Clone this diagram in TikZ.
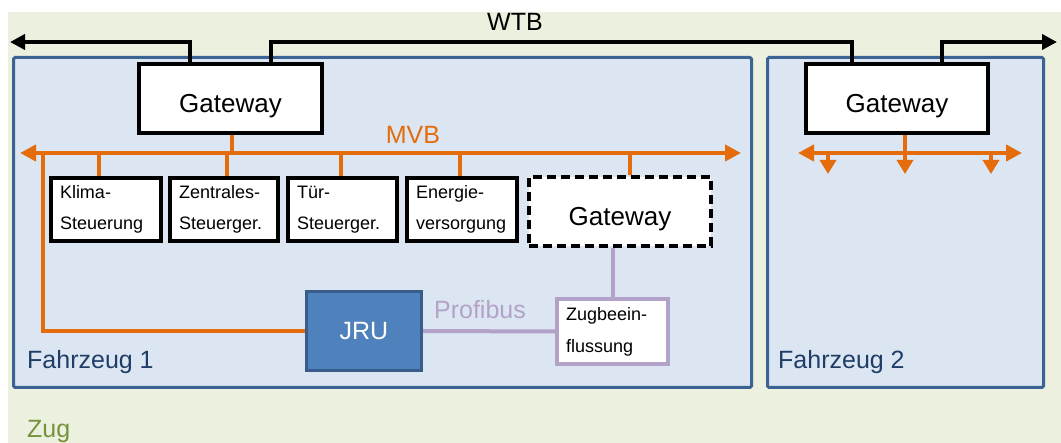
\documentclass[tikz,border=0pt]{standalone}
\usepackage{fontspec}
\setmainfont{Liberation Sans}
\usetikzlibrary{arrows.meta}

\definecolor{zugbg}{HTML}{EBF0DF}
\definecolor{vehfill}{HTML}{DCE6F2}
\definecolor{vehborder}{HTML}{3B6495}
\definecolor{vehtext}{HTML}{1F3D66}
\definecolor{jrufill}{HTML}{4F81BD}
\definecolor{jruborder}{HTML}{385D8A}
\definecolor{mvborange}{HTML}{E46C0A}
\definecolor{pbpurple}{HTML}{B3A2C7}
\definecolor{zuggreen}{HTML}{76923C}

\begin{document}
\begin{tikzpicture}[x=1pt,y=-1pt,
  vehicle/.style={draw=vehborder, line width=3pt, fill=vehfill, rounded corners=1.5pt, inner sep=0pt},
  box/.style={draw=black, line width=4pt, fill=white, rectangle, inner sep=0pt},
  gwbox/.style={box, minimum width=182pt, minimum height=69pt, text height=28pt, text depth=0pt,
    font=\fontsize{26}{30}\selectfont},
  dev/.style={box, align=left, text width=#1, inner xsep=9pt, inner ysep=0pt,
    minimum height=63pt, font=\fontsize{18}{31}\selectfont},
  wtbline/.style={draw=black, line width=4pt},
  mvbline/.style={draw=mvborange, line width=4pt},
  pbline/.style={draw=pbpurple, line width=4pt},
  bothtips/.style={{Triangle[length=16pt,width=16pt]}-{Triangle[length=16pt,width=16pt]}},
  droptip/.style={-{Triangle[length=14pt,width=16pt]}},
  lbl/.style={inner sep=0pt, font=\fontsize{25}{30}\selectfont}
]
% canvas and train area
\useasboundingbox (0,0) rectangle (1061,443);
\fill[white] (0,0) rectangle (1061,443);
\fill[zugbg] (8,12) rectangle (1061,443);

% vehicles
\node[vehicle, minimum width=738pt, minimum height=330pt] (fz1) at (382.5,222.5) {};
\node[vehicle, minimum width=276pt, minimum height=330pt] (fz2) at (905.5,222.5) {};

% gateways on the train bus
\node[gwbox, minimum width=183pt] (gw1) at (230.5,98.5) {Gateway};
\node[gwbox] (gw2) at (897,98.5) {Gateway};

% devices on the vehicle bus
\node[dev=92pt] (klima) at (106,209.5) {Klima-\\Steuerung};
\node[dev=90pt] (zentr) at (224,209.5) {Zentrales-\\Steuerger.};
\node[dev=91pt] (tuer)  at (342.5,209.5) {Tür-\\Steuerger.};
\node[dev=92pt] (energ) at (462,209.5) {Energie-\\versorgung};
\node[gwbox, dash pattern=on 9pt off 5pt] (gwd) at (620,211.5) {Gateway};

% recorder and train protection
\node[draw=jruborder, line width=3pt, fill=jrufill, text=white, inner sep=0pt,
  minimum width=115pt, minimum height=79pt, font=\fontsize{25}{30}\selectfont] (jru) at (364,331) {JRU};
\node[draw=pbpurple, line width=4pt, fill=white, inner xsep=9pt, inner ysep=0pt,
  align=left, text width=93pt, minimum height=65pt,
  font=\fontsize{18}{32}\selectfont] (zb) at (612.5,331.5) {Zugbeein-\\flussung};

% bus labels
\node[lbl] (wtb) at (515,22) {WTB};
\node[lbl, text=mvborange] (mvb) at (413,135) {MVB};
\node[lbl, text=pbpurple] (pb) at (480,310) {Profibus};
\node[lbl, text=vehtext, anchor=west] (fzl1) at (27,362) {Fahrzeug 1};
\node[lbl, text=vehtext, anchor=west] (fzl2) at (778,362) {Fahrzeug 2};
\node[lbl, text=zuggreen, anchor=west] (zug) at (27,431) {Zug};

% WTB
\coordinate (wtbL) at (10,42);
\coordinate (wtbR) at (1057,42);
\coordinate (g1a) at ([xshift=-40.5pt]gw1.north);
\coordinate (g1b) at ([xshift=40.5pt]gw1.north);
\coordinate (g2a) at ([xshift=-45pt]gw2.north);
\coordinate (g2b) at ([xshift=45pt]gw2.north);
\draw[wtbline, -{Triangle[length=15pt,width=15pt]}] (g1a) |- (wtbL);
\draw[wtbline] (g1b) -- (g1b |- wtbL) -| (g2a);
\draw[wtbline, -{Triangle[length=15pt,width=15pt]}] (g2b) |- (wtbR);

% MVB in vehicle 1
\coordinate (mvbL) at (20,153);
\coordinate (mvbR) at (741,153);
\draw[mvbline, bothtips] (mvbL) -- (mvbR);
\coordinate (s0) at ([xshift=1.5pt]gw1.south);
\coordinate (d1) at ([xshift=-7pt]klima.north);
\coordinate (d2) at ([xshift=3pt]zentr.north);
\coordinate (d3) at ([xshift=-1.5pt]tuer.north);
\coordinate (d4) at ([xshift=-2pt]energ.north);
\coordinate (d5) at ([xshift=10pt]gwd.north);
\foreach \d in {s0,d1,d2,d3,d4,d5}
  \draw[mvbline] (\d) -- (\d |- mvbL);
\coordinate (tap) at (43,153);
\draw[mvbline] (tap) |- (jru.west);

% Profibus
\draw[pbline] (jru.east) -- (zb.west);
\coordinate (p1) at ([xshift=-7pt]gwd.south);
\draw[pbline] (p1) -- (p1 |- zb.north);

% MVB in vehicle 2
\coordinate (m2L) at (798,153);
\coordinate (m2R) at (1022,153);
\draw[mvbline, bothtips] (m2L) -- (m2R);
\coordinate (s2) at ([xshift=8pt]gw2.south);
\coordinate (e1) at (828,153);
\coordinate (e2) at (905,174);
\coordinate (e3) at (991,153);
\draw[mvbline, droptip] (s2) -- (e2);
\draw[mvbline, droptip] (e1) -- ++(0,21);
\draw[mvbline, droptip] (e3) -- ++(0,21);
\end{tikzpicture}
\end{document}
